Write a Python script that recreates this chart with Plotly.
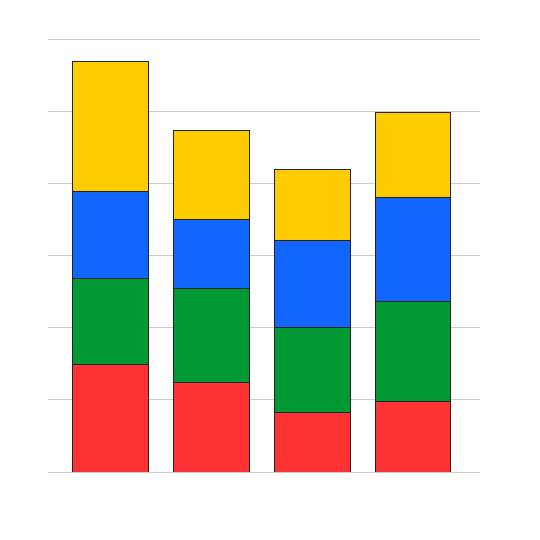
import plotly.graph_objects as go

x_pos = [0, 1, 2, 3]
red = [1.49, 1.24, 0.82, 0.98]
green = [1.20, 1.30, 1.18, 1.38]
blue = [1.20, 0.97, 1.21, 1.45]
yellow = [1.81, 1.23, 0.99, 1.18]

series = [
    (red, "#FF3333"),
    (green, "#009933"),
    (blue, "#1166FF"),
    (yellow, "#FFCC00"),
]

fig = go.Figure()
for vals, col in series:
    fig.add_trace(go.Bar(
        x=x_pos, y=vals, width=0.75,
        marker=dict(color=col, line=dict(color="#222222", width=1)),
        hoverinfo="skip",
    ))

# page adds ~8px body margin, so offsets are shifted accordingly
fig.update_layout(
    barmode="stack",
    width=540, height=540,
    margin=dict(l=40, r=68, t=28, b=76),
    plot_bgcolor="white", paper_bgcolor="white",
    showlegend=False,
)
fig.update_xaxes(range=[-0.622, 3.664], showticklabels=False, showgrid=False,
                 zeroline=False, showline=False, ticks="")
fig.update_yaxes(range=[0, 6.05], tickvals=[1, 2, 3, 4, 5, 6], showticklabels=False,
                 showgrid=True, gridcolor="#CCCCCC", gridwidth=1, zeroline=True,
                 zerolinecolor="#CCCCCC", zerolinewidth=1, showline=False, ticks="")
fig.write_html("out.html")
